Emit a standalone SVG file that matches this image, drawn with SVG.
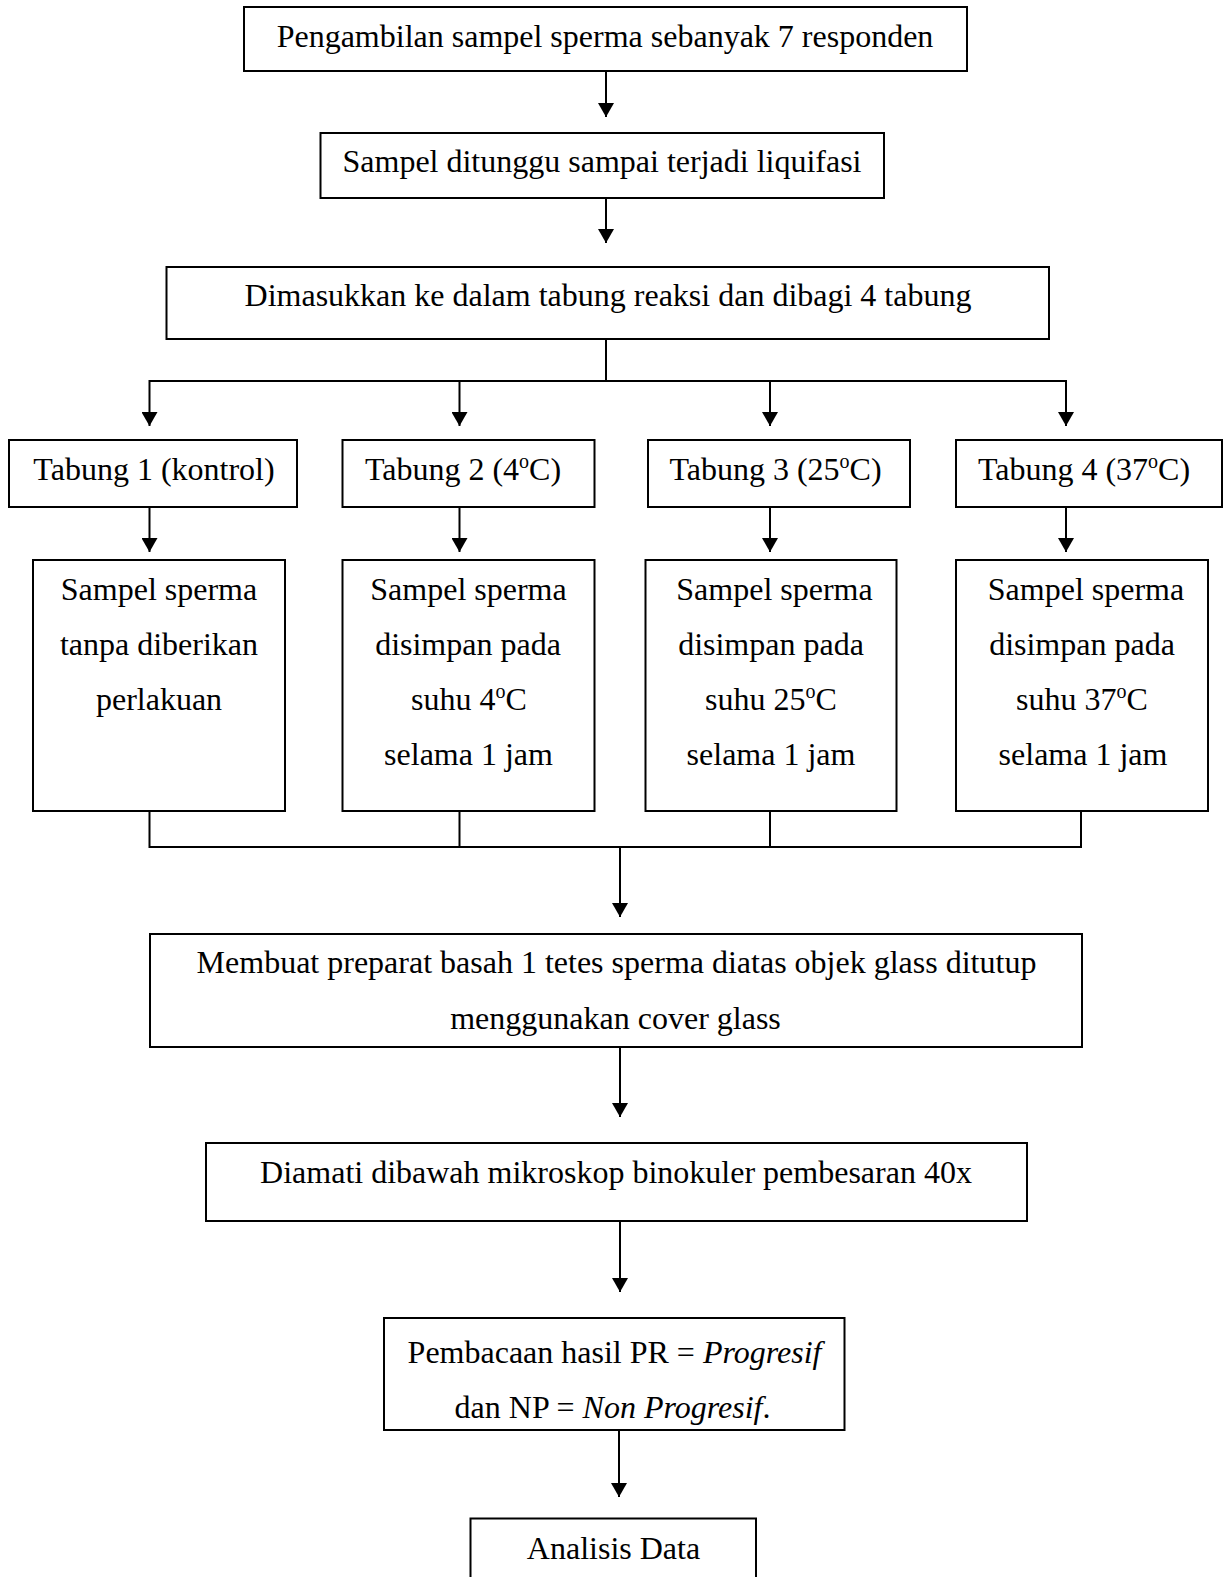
<svg xmlns="http://www.w3.org/2000/svg" width="1226" height="1577" viewBox="0 0 1226 1577">
<style>
.box{fill:#fff;stroke:#000;stroke-width:2}
.t{font-family:"Liberation Serif","Times New Roman",serif;font-size:32px;fill:#000;text-anchor:middle}
.sup{font-size:20px}
.it{font-style:italic}
.c{fill:none;stroke:#000;stroke-width:2}
</style>
<defs>
<marker id="ah" viewBox="0 0 14 16" markerWidth="14" markerHeight="16" refX="14" refY="8" orient="auto" markerUnits="userSpaceOnUse">
<path d="M0,0 L14,8 L0,16 z" fill="#000"/>
</marker>
</defs>
<rect width="1226" height="1577" fill="#fff"/>

<g id="connectors">
<line class="c" x1="606" y1="72" x2="606" y2="117" marker-end="url(#ah)"/>
<line class="c" x1="606" y1="198" x2="606" y2="243" marker-end="url(#ah)"/>
<line class="c" x1="606" y1="339" x2="606" y2="381"/>
<line class="c" x1="149.5" y1="381" x2="1066" y2="381"/>
<line class="c" x1="149.5" y1="380" x2="149.5" y2="426" marker-end="url(#ah)"/>
<line class="c" x1="459.5" y1="381" x2="459.5" y2="426" marker-end="url(#ah)"/>
<line class="c" x1="770" y1="381" x2="770" y2="426" marker-end="url(#ah)"/>
<line class="c" x1="1066" y1="380" x2="1066" y2="426" marker-end="url(#ah)"/>
<line class="c" x1="149.5" y1="507" x2="149.5" y2="552" marker-end="url(#ah)"/>
<line class="c" x1="459.5" y1="507" x2="459.5" y2="552" marker-end="url(#ah)"/>
<line class="c" x1="770" y1="507" x2="770" y2="552" marker-end="url(#ah)"/>
<line class="c" x1="1066" y1="507" x2="1066" y2="552" marker-end="url(#ah)"/>
<polyline class="c" points="149.5,811 149.5,847 1081,847 1081,811"/>
<line class="c" x1="459.5" y1="811" x2="459.5" y2="847"/>
<line class="c" x1="770" y1="811" x2="770" y2="847"/>
<line class="c" x1="620" y1="847" x2="620" y2="917" marker-end="url(#ah)"/>
<line class="c" x1="620" y1="1047" x2="620" y2="1117" marker-end="url(#ah)"/>
<line class="c" x1="620" y1="1221" x2="620" y2="1292" marker-end="url(#ah)"/>
<line class="c" x1="619" y1="1430" x2="619" y2="1497" marker-end="url(#ah)"/>
</g>

<g id="n1">
<rect class="box" x="244" y="7" width="723" height="64"/>
<text class="t" x="605" y="47">Pengambilan sampel sperma sebanyak 7 responden</text>
</g>
<g id="n2">
<rect class="box" x="320.5" y="133" width="563.5" height="65"/>
<text class="t" x="602" y="172">Sampel ditunggu sampai terjadi liquifasi</text>
</g>
<g id="n3">
<rect class="box" x="166.5" y="267" width="882.5" height="72"/>
<text class="t" x="608" y="306">Dimasukkan ke dalam tabung reaksi dan dibagi 4 tabung</text>
</g>

<g id="tabung1">
<rect class="box" x="9" y="440" width="288" height="67"/>
<text class="t" x="154" y="480">Tabung 1 (kontrol)</text>
</g>
<g id="tabung2">
<rect class="box" x="342.5" y="440" width="252" height="67"/>
<text class="t" x="463" y="480">Tabung 2 (4<tspan class="sup" dy="-12">o</tspan><tspan dy="12">C)</tspan></text>
</g>
<g id="tabung3">
<rect class="box" x="648" y="440" width="262" height="67"/>
<text class="t" x="775.5" y="480">Tabung 3 (25<tspan class="sup" dy="-12">o</tspan><tspan dy="12">C)</tspan></text>
</g>
<g id="tabung4">
<rect class="box" x="956" y="440" width="266" height="67"/>
<text class="t" x="1084" y="480">Tabung 4 (37<tspan class="sup" dy="-12">o</tspan><tspan dy="12">C)</tspan></text>
</g>

<g id="sampel1">
<rect class="box" x="33" y="560" width="252" height="251"/>
<text class="t" x="159" y="600">Sampel sperma</text>
<text class="t" x="159" y="655">tanpa diberikan</text>
<text class="t" x="159" y="710">perlakuan</text>
</g>
<g id="sampel2">
<rect class="box" x="342.5" y="560" width="252" height="251"/>
<text class="t" x="468.5" y="600">Sampel sperma</text>
<text class="t" x="468" y="655">disimpan pada</text>
<text class="t" x="469" y="710">suhu 4<tspan class="sup" dy="-12">o</tspan><tspan dy="12">C</tspan></text>
<text class="t" x="468.5" y="765">selama 1 jam</text>
</g>
<g id="sampel3">
<rect class="box" x="645.5" y="560" width="251" height="251"/>
<text class="t" x="774.5" y="600">Sampel sperma</text>
<text class="t" x="771" y="655">disimpan pada</text>
<text class="t" x="771" y="710">suhu 25<tspan class="sup" dy="-12">o</tspan><tspan dy="12">C</tspan></text>
<text class="t" x="771" y="765">selama 1 jam</text>
</g>
<g id="sampel4">
<rect class="box" x="956" y="560" width="252" height="251"/>
<text class="t" x="1086" y="600">Sampel sperma</text>
<text class="t" x="1082" y="655">disimpan pada</text>
<text class="t" x="1082" y="710">suhu 37<tspan class="sup" dy="-12">o</tspan><tspan dy="12">C</tspan></text>
<text class="t" x="1083" y="765">selama 1 jam</text>
</g>

<g id="n4">
<rect class="box" x="150" y="934" width="932" height="113"/>
<text class="t" x="616.5" y="973">Membuat preparat basah 1 tetes sperma diatas objek glass ditutup</text>
<text class="t" x="615.5" y="1029">menggunakan cover glass</text>
</g>
<g id="n5">
<rect class="box" x="206" y="1143" width="821" height="78"/>
<text class="t" x="616" y="1183">Diamati dibawah mikroskop binokuler pembesaran 40x</text>
</g>
<g id="n6">
<rect class="box" x="384" y="1318" width="460.5" height="112"/>
<text class="t" x="614.5" y="1363">Pembacaan hasil PR = <tspan class="it">Progresif</tspan></text>
<text class="t" x="612.5" y="1418">dan NP = <tspan class="it">Non Progresif</tspan>.</text>
</g>
<g id="n7">
<rect class="box" x="470.5" y="1518.5" width="285.5" height="80"/>
<text class="t" x="613.5" y="1559">Analisis Data</text>
</g>
</svg>
